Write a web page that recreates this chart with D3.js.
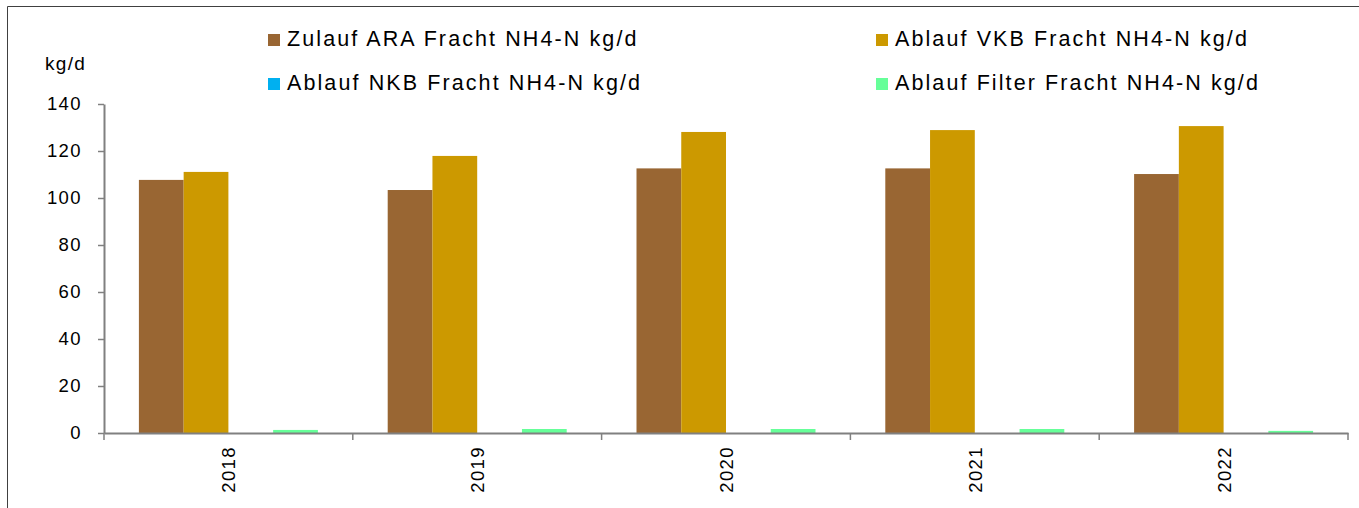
<!DOCTYPE html>
<html><head><meta charset="utf-8">
<script src="https://cdn.jsdelivr.net/npm/d3@7"></script>
<style>body{margin:0;background:#fff;}svg{display:block;font-family:"Liberation Sans",Arial,sans-serif;}</style>
</head><body>
<svg id="c" width="1359" height="508"></svg>
<script>
const years = ["2018","2019","2020","2021","2022"];
const seriesNames = ["Zulauf ARA Fracht NH4-N kg/d","Ablauf VKB Fracht NH4-N kg/d","Ablauf NKB Fracht NH4-N kg/d","Ablauf Filter Fracht NH4-N kg/d"];
const seriesColors = ["#996633","#CC9900","#00B0F0","#66FF99"];
const zulaufARA = [107.7, 103.4, 112.6, 112.6, 110.2];
const ablaufVKB = [111.1, 117.9, 128.1, 128.9, 130.6];
const ablaufNKB = [0, 0, 0, 0, 0];
const ablaufFilter = [1.3, 1.7, 1.7, 1.7, 0.9];
const yTicks = [0,20,40,60,80,100,120,140];
const series = [zulaufARA, ablaufVKB, ablaufNKB, ablaufFilter];

const svg = d3.select("#c");
// frame
svg.append("path").attr("d","M7.5,508 L7.5,6.5 L1359,6.5").attr("fill","none").attr("stroke","#404040").attr("stroke-width",1);

const x0 = 104, x1 = 1348, yTop = 104, yBot = 433;
const x = d3.scaleBand().domain(years).range([x0,x1]).paddingInner(0).paddingOuter(0);
const y = d3.scaleLinear().domain([0,140]).range([yBot,yTop]);

// bars
const gw = 179, off = (x.bandwidth()-gw)/2;
const sub = d3.scaleBand().domain(d3.range(4)).range([off, off+gw]);
series.forEach((vals,si)=>{
  svg.append("g").selectAll("rect").data(vals).join("rect")
    .attr("x",(d,i)=>x(years[i])+sub(si))
    .attr("width",sub.bandwidth())
    .attr("y",d=>y(d))
    .attr("height",d=>yBot-y(d))
    .attr("fill",seriesColors[si]);
});

// y axis
const ya = svg.append("g").attr("transform",`translate(${x0},0)`)
  .call(d3.axisLeft(y).tickValues(yTicks).tickSize(6).tickSizeOuter(0).tickPadding(16));
ya.select(".domain").attr("stroke","#808080").attr("stroke-width",2);
ya.selectAll(".tick line").attr("stroke","#808080").attr("stroke-width",1.5);
ya.selectAll(".tick text").attr("font-size","18.5px").attr("letter-spacing","1.4px").attr("fill","#000").attr("font-family","Liberation Sans, Arial, sans-serif");

// x axis
const xa = svg.append("g").attr("transform",`translate(0,${yBot})`)
  .call(d3.axisBottom(x).tickSize(0).tickFormat(""));
xa.select(".domain").attr("stroke","#808080").attr("stroke-width",2);
const bounds = years.map(d=>x(d)).concat([x1]);
svg.append("g").selectAll("line").data(bounds).join("line")
  .attr("x1",d=>d).attr("x2",d=>d).attr("y1",yBot).attr("y2",yBot+7)
  .attr("stroke","#808080").attr("stroke-width",1.5);
svg.append("g").selectAll("text").data(years).join("text")
  .attr("transform",d=>`translate(${x(d)+x.bandwidth()/2+7},446) rotate(-90)`)
  .attr("text-anchor","end").attr("font-size","18.5px").attr("letter-spacing","1.4px").text(d=>d);

// y unit
svg.append("text").attr("x",45).attr("y",70).attr("font-size","19px").attr("letter-spacing","1.3px").text("kg/d");

// legend
const legPos = [[268,48],[876,48],[268,92],[876,92]];
seriesNames.forEach((n,i)=>{
  const [lx,ly] = legPos[i];
  svg.append("rect").attr("x",lx).attr("y",ly-14).attr("width",12).attr("height",12).attr("fill",seriesColors[i]);
  svg.append("text").attr("x",lx+19).attr("y",ly-2).attr("font-size","21.5px").attr("letter-spacing","2.1px").text(n);
});
</script>
</body></html>
